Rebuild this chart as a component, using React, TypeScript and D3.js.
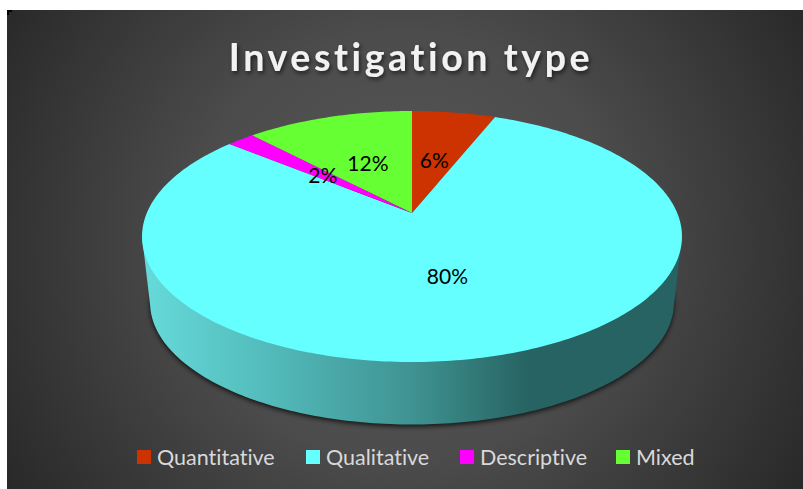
import * as d3 from "d3"

const categories = ["Quantitative", "Qualitative", "Descriptive", "Mixed"]
const shares = [6, 80, 2, 12]
const colors = ["#cc3300", "#66ffff", "#ff00ff", "#66ff33"]
const legendSwatchX = [137, 306, 460, 616]

const width = 803
const height = 489

// perspective disc: apex sits above the middle of the ellipse
const apexX = 412
const apexY = 213
const radiusX = 265.2
const radiusY = 121.1
const tilt = 0.1873
const depth = 67
const baseScale = 0.97

function project(angle: number, r = 1, dy = 0, scale = 1): [number, number] {
    const ux = r * Math.sin(angle)
    const uy = -r * Math.cos(angle)
    const w = 1 - tilt * uy
    return [
        apexX + (scale * radiusX * ux) / w,
        apexY + dy + (scale * radiusY * uy) / w,
    ]
}

const line = d3.line()
const tau = Math.PI * 2

function slicePath(start: number, end: number) {
    const pts: [number, number][] = [[apexX, apexY]]
    const steps = Math.max(4, Math.ceil((end - start) * 60))
    d3.range(steps + 1).forEach((i) => {
        pts.push(project(start + ((end - start) * i) / steps))
    })
    return line(pts) + "Z"
}

// side wall: lower half of the base plus the rim's widest points
function wallPath() {
    const pts: [number, number][] = []
    const ring = d3.range(361).map((i) => (i / 360) * tau)
    const topRing = ring.map((a) => project(a))
    const right = topRing.reduce((m, p) => (p[0] > m[0] ? p : m))
    const left = topRing.reduce((m, p) => (p[0] < m[0] ? p : m))
    pts.push(right)
    ring.map((a) => project(a, 1, depth, baseScale))
        .filter((p) => p[1] > apexY + depth + 24)
        .sort((a, b) => b[0] - a[0])
        .forEach((p) => pts.push(p))
    pts.push(left)
    return line(pts) + "Z"
}

export default function App() {
    const arcs = d3.pie<number>().sort(null).value((d) => d)(shares)
    const basePts = d3.range(361).map((i) => project((i / 360) * tau, 1, depth, baseScale))

    return (
        <svg
            width={width}
            height={height}
            viewBox={`0 0 ${width} ${height}`}
            style={{ position: "absolute", left: 0, top: 0, display: "block", fontVariantLigatures: "none" }}
        >
            <defs>
                <radialGradient id="bg" gradientUnits="userSpaceOnUse" cx={405} cy={245} r={470}>
                    <stop offset="0" stopColor="#585858" />
                    <stop offset="0.45" stopColor="#4c4c4c" />
                    <stop offset="1" stopColor="#282828" />
                </radialGradient>
                <linearGradient id="wall" gradientUnits="userSpaceOnUse" x1={146} x2={678} y1={0} y2={0}>
                    <stop offset="0" stopColor="#66d9d9" />
                    <stop offset="0.2" stopColor="#55bfbf" />
                    <stop offset="0.5" stopColor="#3f9392" />
                    <stop offset="0.72" stopColor="#266362" />
                    <stop offset="1" stopColor="#266362" />
                </linearGradient>
                <filter id="blur" x="-10%" y="-10%" width="120%" height="120%">
                    <feGaussianBlur stdDeviation="2.5" />
                </filter>
                <filter id="titleShadow" x="-5%" y="-20%" width="110%" height="150%">
                    <feDropShadow dx="1.5" dy="2.5" stdDeviation="2" floodColor="#000" floodOpacity="0.6" />
                </filter>
            </defs>

            <rect x={7} y={10} width={width - 7} height={height - 10} fill="url(#bg)" />
            <path d="M7 10h5v2h-3v3h-2z" fill="#000" />

            <text
                x={411}
                y={71}
                textAnchor="middle"
                fontFamily="Lato, sans-serif"
                fontWeight={700}
                fontSize={37.5}
                letterSpacing={3.6}
                fill="#f2f2f2"
                filter="url(#titleShadow)"
            >
                Investigation type
            </text>

            <path d={line(basePts) + "Z"} transform="translate(0,2)" fill="#000" opacity={0.75} filter="url(#blur)" />
            <path d={wallPath()} fill="url(#wall)" />

            {arcs.map((a, i) => (
                <path key={categories[i]} d={slicePath(a.startAngle, a.endAngle)} fill={colors[i]} />
            ))}

            {arcs.map((a, i) => {
                const [lx, ly] = project((a.startAngle + a.endAngle) / 2, 0.49)
                return (
                    <text
                        key={categories[i]}
                        x={lx}
                        y={ly + 1}
                        dy="0.35em"
                        textAnchor="middle"
                        fontFamily="Lato, sans-serif"
                        fontSize={21}
                        fill="#000"
                    >
                        {shares[i]}%
                    </text>
                )
            })}

            {categories.map((c, i) => (
                <g key={c} transform={`translate(${legendSwatchX[i]},450)`}>
                    <rect width={14} height={14} fill={colors[i]} />
                    <text
                        x={20}
                        y={14.5}
                        fontFamily="Lato, sans-serif"
                        fontSize={21.5}
                        fill="#d9d9d9"
                    >
                        {c}
                    </text>
                </g>
            ))}
        </svg>
    )
}
